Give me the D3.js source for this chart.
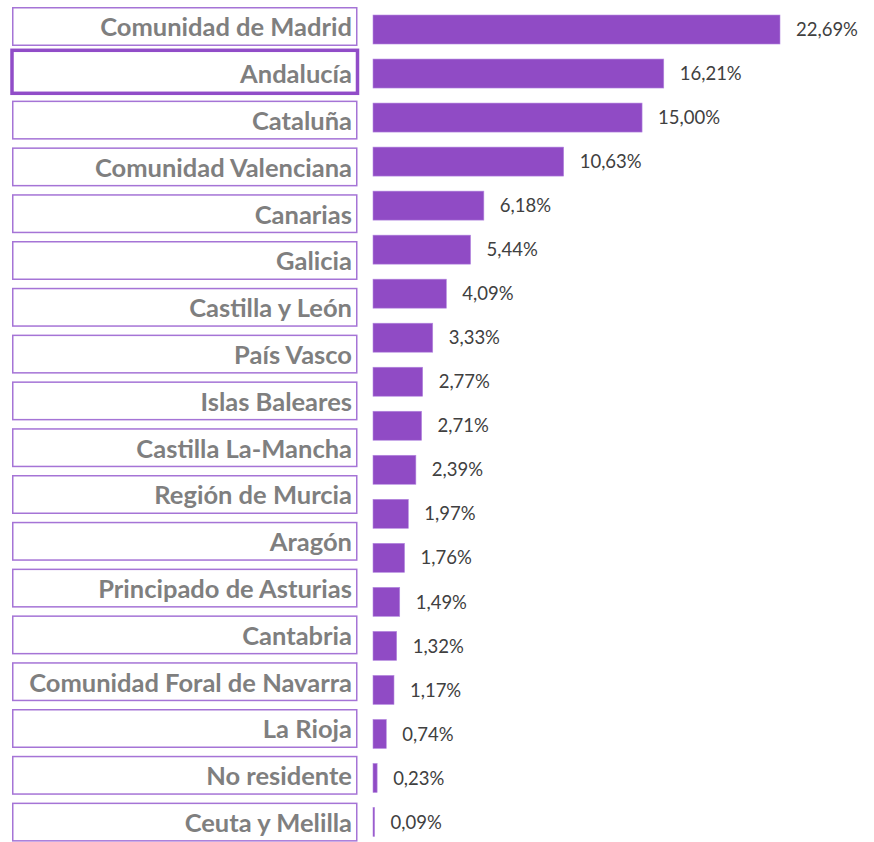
<!DOCTYPE html>
<html>
<head>
<meta charset="utf-8">
<script src="https://cdn.jsdelivr.net/npm/d3@7"></script>
<style>
  body { margin: 0; background: #fff; }
  svg { display: block; }
  .region-label { font-family: Lato, "Open Sans", sans-serif; font-weight: bold; fill: #7f7f7f; }
  .value-label { font-family: Lato, "Open Sans", sans-serif; fill: #404040; }
</style>
</head>
<body>
<div id="chart"></div>
<script>
// label boxes on the left (18 of them, own spacing)
const REGIONS = [
    'Comunidad de Madrid',
    'Andalucía',
    'Cataluña',
    'Comunidad Valenciana',
    'Canarias',
    'Galicia',
    'Castilla y León',
    'País Vasco',
    'Islas Baleares',
    'Castilla La-Mancha',
    'Región de Murcia',
    'Aragón',
    'Principado de Asturias',
    'Cantabria',
    'Comunidad Foral de Navarra',
    'La Rioja',
    'No residente',
    'Ceuta y Melilla'
]
const HIGHLIGHTED = 'Andalucía'

// bars on the right (19 values, in %)
const SHARES = [22.69, 16.21, 15.00, 10.63, 6.18, 5.44, 4.09, 3.33, 2.77, 2.71, 2.39, 1.97, 1.76, 1.49, 1.32, 1.17, 0.74, 0.23, 0.09]

const WIDTH = 874;
const HEIGHT = 842;

let svg = d3.select("#chart").append("svg")
    .attr("width", WIDTH)
    .attr("height", HEIGHT)

// --- label boxes ---
let yBox = d3.scaleBand()
    .domain(REGIONS)
    .range([7, 7 + 46.8 * REGIONS.length])

const boxH = 37.5;

svg.selectAll(".region-box")
    .data(REGIONS)
    .enter().append("rect")
    .attr("class", "region-box")
    .attr("x", d => d === HIGHLIGHTED ? 12 : 12.75)
    .attr("y", d => d === HIGHLIGHTED ? yBox(d) - 3.5 : yBox(d) + 0.75)
    .attr("width", d => d === HIGHLIGHTED ? 345.5 : 344)
    .attr("height", d => d === HIGHLIGHTED ? boxH + 5.5 : boxH)
    .attr("fill", "#fff")
    .attr("stroke", d => d === HIGHLIGHTED ? "#914dc8" : "#a574d6")
    .attr("stroke-width", d => d === HIGHLIGHTED ? 3.5 : 1.5)

svg.selectAll(".region-label")
    .data(REGIONS)
    .enter().append("text")
    .attr("class", "region-label")
    .attr("x", 352)
    .attr("y", d => yBox(d) + boxH / 2 + 1.5)
    .attr("dy", "0.36em")
    .attr("text-anchor", "end")
    .style("font-size", "25.5px")
    .text(d => d)

// --- bars ---
let x = d3.scaleLinear()
    .domain([0, d3.max(SHARES)])
    .range([373, 780])

let y = d3.scaleBand()
    .domain(d3.range(SHARES.length))
    .range([7.5, 844])

const barH = 29;

svg.selectAll(".bar")
    .data(SHARES)
    .enter().append("rect")
    .attr("class", "bar")
    .attr("x", x(0))
    .attr("y", (d, i) => y(i) + y.bandwidth() / 2 - barH / 2)
    .attr("width", d => Math.max(1.5, x(d) - x(0)))
    .attr("height", barH)
    .attr("fill", "#904bc5")
    .attr("stroke", "#b58ae0")
    .attr("stroke-width", 0.6)

let fmt = v => v.toFixed(2).replace('.', ',') + '%'

svg.selectAll(".value-label")
    .data(SHARES)
    .enter().append("text")
    .attr("class", "value-label")
    .attr("x", d => x(d) + 16)
    .attr("y", (d, i) => y(i) + y.bandwidth() / 2)
    .attr("dy", "0.36em")
    .style("font-size", "18.5px")
    .text(d => fmt(d))
</script>
</body>
</html>
